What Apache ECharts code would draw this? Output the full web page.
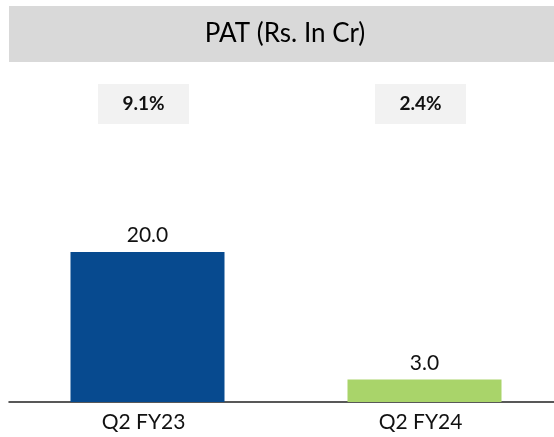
<!DOCTYPE html>
<html>
<head>
<meta charset="utf-8">
<script src="https://cdn.jsdelivr.net/npm/echarts@6/dist/echarts.min.js"></script>
<style>
  html, body { margin: 0; padding: 0; background: #fff; }
  #main { width: 554px; height: 437px; }
</style>
</head>
<body>
<div id="main"></div>
<script>
// data
var titleText = "PAT (Rs. In Cr)";
var periods = ["Q2 FY23", "Q2 FY24"];
var patValues = [20.0, 3.0];
var margins = ["9.1%", "2.4%"];
var barColors = ["#074A8F", "#A9D46A"];

(function () {
  var myChart = echarts.init(document.getElementById("main"));
  var font = "Lato, 'Open Sans', sans-serif";
  var option = {
    animation: false,
    graphic: [
      {
        type: "rect",
        left: 9,
        top: 6,
        shape: { width: 545, height: 56 },
        style: { fill: "#D9D9D9" },
      },
      {
        type: "text",
        x: 285,
        y: 34,
        style: {
          text: titleText,
          fill: "#000",
          font: "26px " + font,
          align: "center",
          verticalAlign: "middle",
        },
      },
    ],
    // grid 0: bars, grid 1: labels (slightly left, as in the slide)
    grid: [
      { left: 9, width: 554, top: 132, bottom: 35, outerBoundsMode: "none" },
      { left: 5, width: 554, top: 132, bottom: 35, outerBoundsMode: "none" },
    ],
    xAxis: [
      {
        type: "category",
        gridIndex: 0,
        data: periods,
        axisLine: { show: true, lineStyle: { color: "#222", width: 1.5 } },
        axisTick: { show: false },
        axisLabel: { show: false },
      },
      {
        type: "category",
        gridIndex: 1,
        position: "bottom",
        data: periods,
        axisLine: { show: false },
        axisTick: { show: false },
        axisLabel: {
          color: "#111",
          fontFamily: font,
          fontSize: 21,
          margin: 10,
        },
      },
      {
        type: "category",
        gridIndex: 1,
        position: "top",
        data: margins,
        axisLine: { show: false },
        axisTick: { show: false },
        axisLabel: {
          color: "#111",
          fontFamily: font,
          fontSize: 19,
          fontWeight: "bold",
          lineHeight: 20,
          backgroundColor: "#F2F2F2",
          width: 91,
          align: "center",
          padding: [10, 0],
          margin: 8,
        },
      },
    ],
    yAxis: [
      { type: "value", gridIndex: 0, min: 0, max: 36, show: false },
      { type: "value", gridIndex: 1, min: 0, max: 36, show: false },
    ],
    series: [
      {
        type: "bar",
        xAxisIndex: 0,
        yAxisIndex: 0,
        barWidth: 154,
        data: patValues.map(function (v, i) {
          return { value: v, itemStyle: { color: barColors[i] } };
        }),
        label: {
          show: true,
          position: "top",
          distance: 6,
          color: "#111",
          fontFamily: font,
          fontSize: 21,
          formatter: function (p) {
            return p.value.toFixed(1);
          },
        },
      },
    ],
  };
  myChart.setOption(option);
  window.addEventListener("resize", function () {
    myChart.resize();
  });
})();
</script>
</body>
</html>
